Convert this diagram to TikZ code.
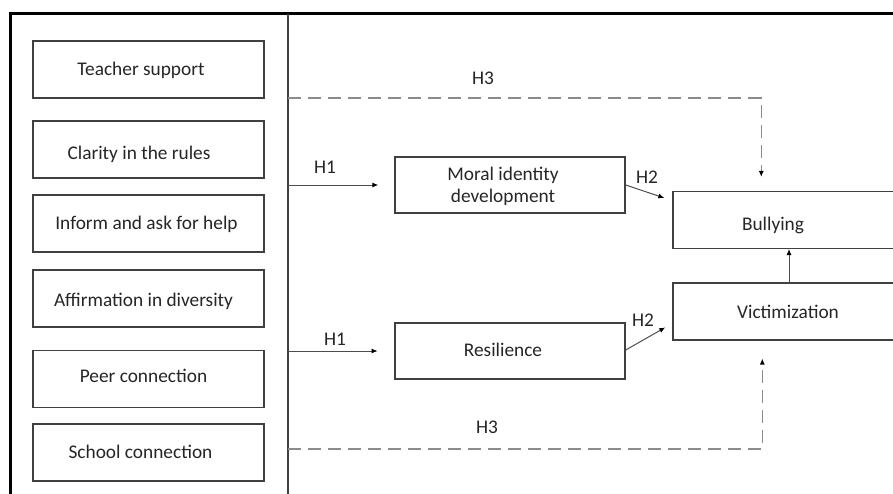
\documentclass[tikz,border=0pt]{standalone}
\usepackage{fontspec}
\setmainfont{Carlito}
\usetikzlibrary{arrows.meta,calc}
\begin{document}
\begin{tikzpicture}[x=0.75pt,y=-0.75pt,
  lbox/.style={draw=black!75, line width=1.1pt, minimum width=173.25pt, minimum height=42.75pt, inner sep=0pt},
  mbox/.style={draw=black!75, line width=1.1pt, minimum width=172.5pt, minimum height=42pt, inner sep=0pt},
  rbox/.style={draw=black!75, line width=1.1pt, minimum width=174pt, minimum height=42.5pt, inner sep=0pt},
  txt/.style={text=black!85, font=\fontsize{14.5}{16.5}\selectfont, inner sep=0pt, align=center},
  hlab/.style={text=black!85, font=\fontsize{14.5}{16.5}\selectfont, inner sep=0pt},
  arr/.style={draw=black!70, line width=0.75pt, -{Latex[length=4.5pt,width=3.8pt,color=black]}},
  darr/.style={draw=black!45, line width=0.9pt, dash pattern=on 10pt off 5pt, -{Latex[length=4.5pt,width=3.8pt,color=black]}},
]
\useasboundingbox (0,0) rectangle (893,493);
\clip (0,0) rectangle (893,493);
\fill[white] (0,0) rectangle (893,493);

% frame
\draw[black, line width=2.25pt] (10.5,500) -- (10.5,13.5) -- (900,13.5);
\draw[black!75, line width=0.8pt] (288,13.5) -- (288,500);

% left boxes
\node[lbox] (b1) at (148.5,69.5) {};
\node[txt] (t1) at (141,70) {Teacher support};
\node[lbox] (b2) at (148.5,149.5) {};
\node[txt] (t2) at (139,154) {Clarity in the rules};
\node[lbox] (b3) at (148.5,223.5) {};
\node[txt] (t3) at (146.5,224) {Inform and ask for help};
\node[lbox] (b4) at (148.5,298.5) {};
\node[txt] (t4) at (143.5,301) {Affirmation in diversity};
\node[lbox] (b5) at (148.5,379) {};
\node[txt] (t5) at (143.5,376) {Peer connection};
\node[lbox] (b6) at (148.5,452.5) {};
\node[txt] (t6) at (140.5,452) {School connection};

% middle boxes
\node[mbox] (moral) at (510,185) {};
\node[txt] (moralt) at (503,186) {Moral identity\\development};
\node[mbox] (res) at (510,351) {};
\node[txt] (rest) at (503,350) {Resilience};

% right boxes
\node[rbox] (bully) at (789,220) {};
\node[txt] (bullyt) at (773,225) {Bullying};
\node[rbox] (vict) at (789,311.5) {};
\node[txt] (victt) at (788,312) {Victimization};

% connector start points on the left panel
\coordinate (h1a) at (288,185);
\coordinate (h1b) at (288,351);
\coordinate (h3a) at (288,98);
\coordinate (h3b) at (288,449);

% H1 arrows
\draw[arr, shorten >=12pt] (h1a) -- (moral.west);
\draw[arr, shorten >=12.5pt] (h1b) -- (res.west);

% H2 arrows
\draw[arr] (moral.east) -- ($(bully.north west)+(-8,7)$);
\draw[arr] ($(res.east)+(0,-1)$) -- ($(vict.north west)+(-7,45)$);

% victimization -> bullying
\draw[arr] (vict.north) -- (bully.south);

% H3 dashed
\draw[darr] (h3a) -| ($(bully.north west)+(89,-14)$);
\draw[darr] (h3b) -| ($(vict.south west)+(90,18)$);

% labels
\node[hlab] (l1) at (483,78) {H3};
\node[hlab] (l2) at (325,167) {H1};
\node[hlab] (l3) at (647,177) {H2};
\node[hlab] (l4) at (335,339) {H1};
\node[hlab] (l5) at (643,320) {H2};
\node[hlab] (l6) at (487,427) {H3};
\end{tikzpicture}
\end{document}
